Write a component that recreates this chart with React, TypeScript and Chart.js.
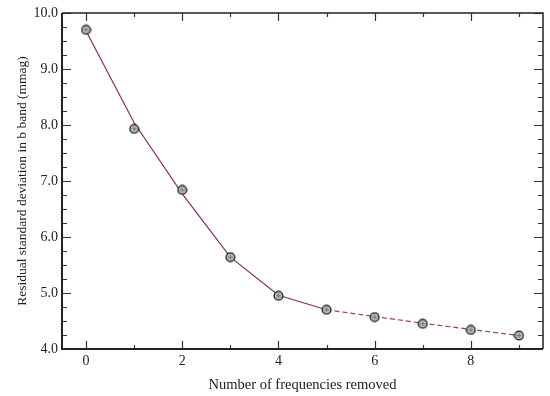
import React, { useEffect, useRef } from 'react';
import Chart from 'chart.js/auto';

const frequenciesRemoved = [0, 1, 2, 3, 4, 5, 6, 7, 8, 9];
const residualStdDev = [9.70, 7.93, 6.84, 5.64, 4.95, 4.70, 4.57, 4.45, 4.34, 4.24];
const fitSolidX = [0, 1, 2, 3, 4, 5];
const fitSolidY = [9.68, 8.04, 6.77, 5.64, 4.96, 4.70];
const fitDashedX = [5, 6, 7, 8, 9];
const fitDashedY = [4.70, 4.58, 4.46, 4.35, 4.24];
const xTickValues = [0, 2, 4, 6, 8];
const yTickValues = [4, 5, 6, 7, 8, 9, 10];
const xMinorTicks = [0, 1, 2, 3, 4, 5, 6, 7, 8, 9];
const yMinorStep = 0.25;

const SERIF = '"Liberation Serif", "DejaVu Serif", serif';

function makeMarker(): HTMLCanvasElement {
  const c = document.createElement('canvas');
  c.width = 11;
  c.height = 11;
  const ctx = c.getContext('2d')!;
  ctx.beginPath();
  ctx.arc(5.5, 5.5, 4.4, 0, Math.PI * 2);
  ctx.fillStyle = '#b4b4b4';
  ctx.fill();
  ctx.lineWidth = 1.3;
  ctx.strokeStyle = '#1c1c1c';
  ctx.stroke();
  ctx.strokeStyle = '#6a6a6a';
  ctx.lineWidth = 0.8;
  ctx.beginPath();
  ctx.moveTo(5.5, 3.5);
  ctx.lineTo(5.5, 7.5);
  ctx.moveTo(3.5, 5.5);
  ctx.lineTo(7.5, 5.5);
  ctx.stroke();
  return c;
}

const framePlugin = {
  id: 'frameTicks',
  beforeDatasetsDraw(chart: any) {
    const { ctx, chartArea } = chart;
    const xs = chart.scales.x;
    const ys = chart.scales.y;
    const { left, right, top, bottom } = chartArea;
    ctx.save();
    ctx.strokeStyle = '#333';
    ctx.lineWidth = 1.2;
    ctx.beginPath();
    for (const v of xMinorTicks) {
      const px = Math.round(xs.getPixelForValue(v)) + 0.5;
      const len = v % 2 === 0 ? 8 : 4;
      ctx.moveTo(px, bottom);
      ctx.lineTo(px, bottom - len);
      ctx.moveTo(px, top);
      ctx.lineTo(px, top + len);
    }
    const yMin = yTickValues[0];
    const yMax = yTickValues[yTickValues.length - 1];
    const n = Math.round((yMax - yMin) / yMinorStep);
    for (let i = 0; i <= n; i++) {
      const v = yMin + i * yMinorStep;
      const py = Math.round(ys.getPixelForValue(v)) + 0.5;
      const major = i % 4 === 0;
      const len = major ? 9 : 5;
      ctx.moveTo(left, py);
      ctx.lineTo(left + len, py);
      ctx.moveTo(right, py);
      ctx.lineTo(right - len, py);
    }
    ctx.stroke();
    ctx.strokeStyle = '#222';
    ctx.lineWidth = 2;
    ctx.beginPath();
    ctx.moveTo(left, top);
    ctx.lineTo(left, bottom);
    ctx.lineTo(right, bottom);
    ctx.stroke();
    ctx.lineWidth = 1.5;
    ctx.beginPath();
    ctx.moveTo(left, top);
    ctx.lineTo(right, top);
    ctx.lineTo(right, bottom);
    ctx.stroke();
    ctx.restore();
  },
};

export default function App() {
  const ref = useRef<HTMLCanvasElement>(null);
  useEffect(() => {
    if (!ref.current) return;
    const marker = makeMarker();
    const chart = new Chart(ref.current, {
      type: 'scatter',
      data: {
        datasets: [
          {
            label: 'Residual',
            data: frequenciesRemoved.map((x, i) => ({ x, y: residualStdDev[i] })),
            pointStyle: marker as any,
            pointRadius: 5,
            showLine: false,
          },
          {
            label: 'Fit',
            data: fitSolidX.map((x, i) => ({ x, y: fitSolidY[i] })),
            showLine: true,
            borderColor: '#8b2a6e',
            borderWidth: 1.2,
            pointRadius: 0,
          },
          {
            label: 'Fit extension',
            data: fitDashedX.map((x, i) => ({ x, y: fitDashedY[i] })),
            showLine: true,
            borderColor: '#9a3a7c',
            borderWidth: 1.2,
            borderDash: [5, 3],
            pointRadius: 0,
          },
        ],
      },
      options: {
        responsive: false,
        animation: false,
        layout: { padding: { top: 13, right: 7, left: 0, bottom: 0 } },
        plugins: { legend: { display: false }, tooltip: { enabled: false } },
        scales: {
          x: {
            type: 'linear',
            min: -0.5,
            max: 9.5,
            afterBuildTicks: (s: any) => {
              s.ticks = xTickValues.map((v) => ({ value: v }));
            },
            afterFit: (s: any) => {
              s.height = 47;
            },
            grid: { display: false, drawTicks: false },
            border: { display: false },
            ticks: {
              padding: 4,
              color: '#222',
              font: { family: SERIF, size: 14 },
              callback: (v: any) => String(v),
            },
            title: {
              display: true,
              text: 'Number of frequencies removed',
              color: '#222',
              font: { family: SERIF, size: 14.5 },
              padding: { top: 2, bottom: 2 },
            },
          },
          y: {
            type: 'linear',
            min: 4,
            max: 10,
            afterBuildTicks: (s: any) => {
              s.ticks = yTickValues.map((v) => ({ value: v }));
            },
            afterFit: (s: any) => {
              s.width = 62;
            },
            grid: { display: false, drawTicks: false },
            border: { display: false },
            ticks: {
              padding: 4,
              color: '#222',
              font: { family: SERIF, size: 14 },
              callback: (v: any) => Number(v).toFixed(1),
            },
            title: {
              display: true,
              text: 'Residual standard deviation in b band (mmag)',
              color: '#222',
              font: { family: SERIF, size: 13.5 },
              padding: { top: 14, bottom: 14 },
            },
          },
        },
      },
      plugins: [framePlugin],
    });
    return () => chart.destroy();
  }, []);
  return (
    <div style={{ position: 'absolute', left: 0, top: 0, width: 550, height: 396, background: '#fff' }}>
      <canvas ref={ref} width={550} height={396} style={{ display: 'block' }} />
    </div>
  );
}
